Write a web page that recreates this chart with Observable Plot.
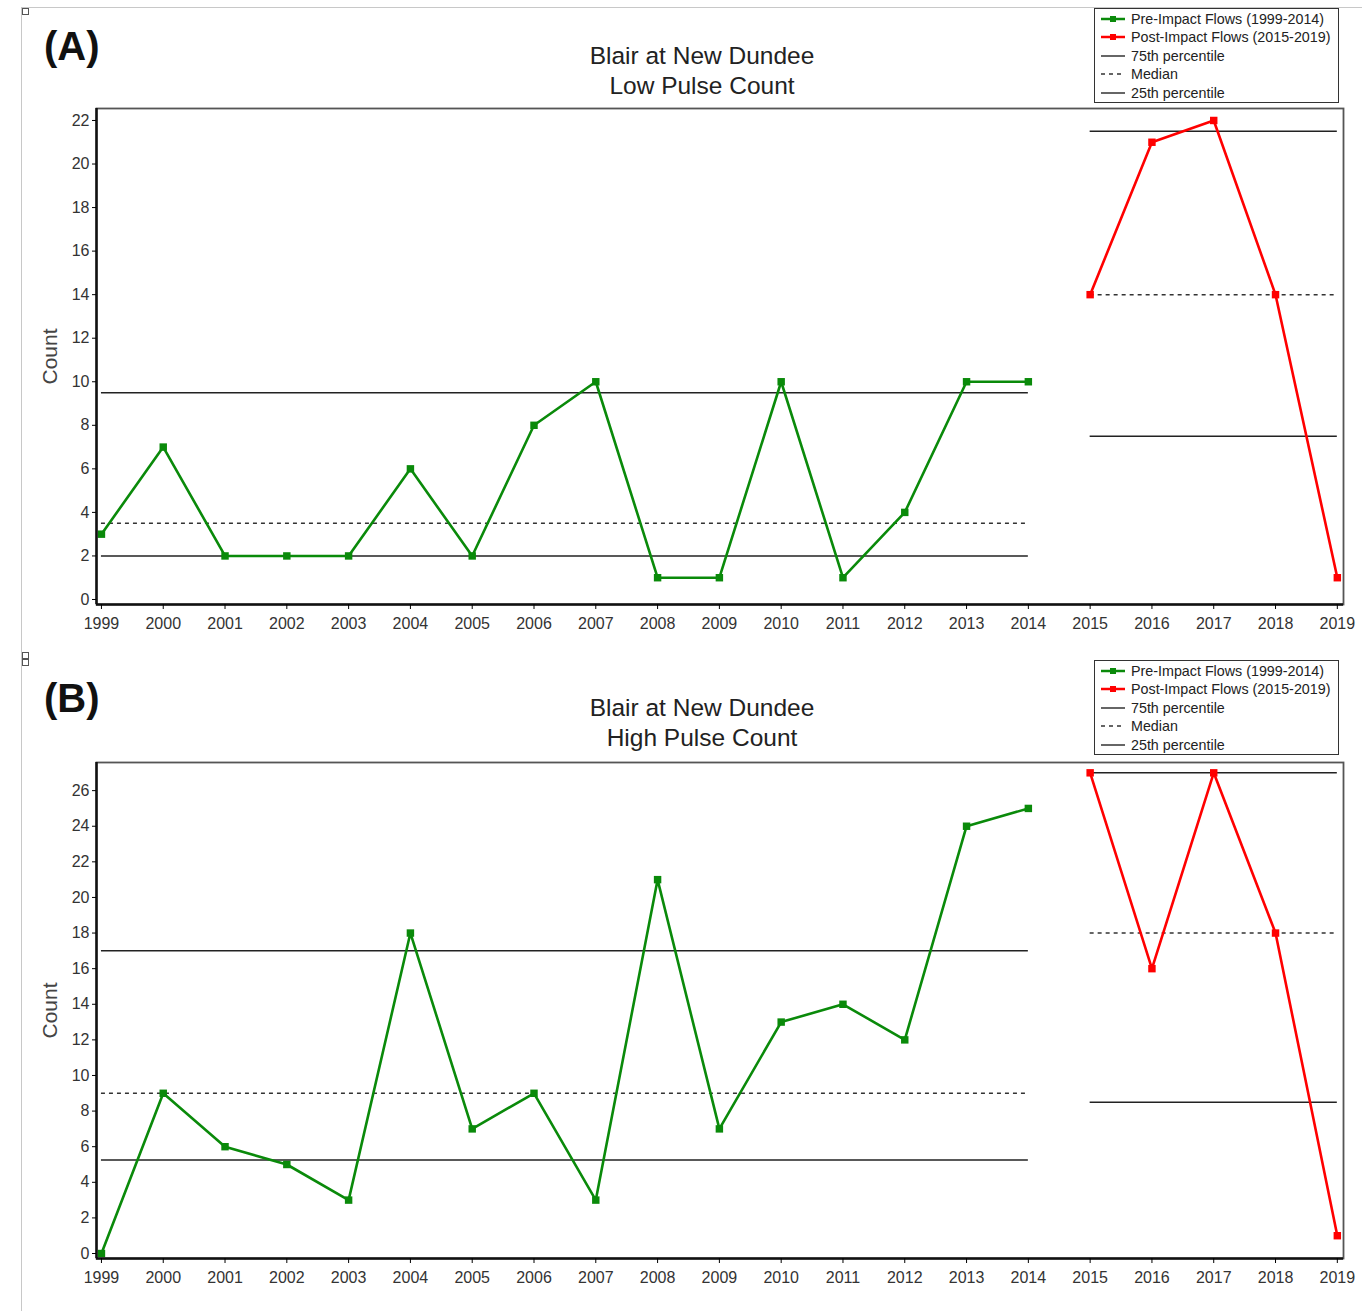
<!DOCTYPE html>
<html>
<head>
<meta charset="utf-8">
<script src="https://cdn.jsdelivr.net/npm/d3@7"></script>
<script src="https://cdn.jsdelivr.net/npm/@observablehq/plot@0.6"></script>
<style>
  html, body { margin: 0; padding: 0; background: #fff; }
  #page { position: relative; width: 1362px; height: 1311px; overflow: hidden; font-family: "Liberation Sans", Arial, sans-serif; }
  .panel { position: absolute; left: 0; }
  .tag { position: absolute; font-weight: bold; font-size: 40px; color: #111; }
  .title { position: absolute; left: 452px; width: 500px; text-align: center; font-size: 24.5px; line-height: 30px; color: #222; }
  .legend { position: absolute; left: 1094px; width: 245px; height: 95px; border: 1.5px solid #333; box-sizing: border-box; background: #fff; }
  .legend .row { position: absolute; left: 6px; height: 18px; display: flex; align-items: center; font-size: 14.3px; color: #222; white-space: nowrap; }
  .legend svg { margin-right: 6px; }
  .border-v { position: absolute; left: 21px; top: 7px; width: 1px; height: 1304px; background: #c8c8c8; }
  .border-h { position: absolute; left: 21px; top: 7px; width: 1341px; height: 1px; background: #c8c8c8; }
  .sq { position: absolute; width: 5px; height: 5px; border: 1px solid #555; background: #fff; }
</style>
</head>
<body>
<div id="page">
  <div class="border-v"></div>
  <div class="border-h"></div>
  <div class="sq" style="left:22px;top:8px"></div>
  <div class="sq" style="left:22px;top:652px"></div>
  <div class="sq" style="left:22px;top:659px"></div>
</div>
<script>
// ---------- data ----------
const yearTicks = [1999,2000,2001,2002,2003,2004,2005,2006,2007,2008,2009,2010,2011,2012,2013,2014,2015,2016,2017,2018,2019];
const preYears  = [1999,2000,2001,2002,2003,2004,2005,2006,2007,2008,2009,2010,2011,2012,2013,2014];
const postYears = [2015,2016,2017,2018,2019];

// Panel A: Low Pulse Count
const lowPre  = [3,7,2,2,2,6,2,8,10,1,1,10,1,4,10,10];
const lowPost = [14,21,22,14,1];
const lowPrePct  = [2, 3.5, 9.5];    // 25th, median, 75th
const lowPostPct = [7.5, 14, 21.5];
const lowYTicks = [0,2,4,6,8,10,12,14,16,18,20,22];

// Panel B: High Pulse Count
const highPre  = [0,9,6,5,3,18,7,9,3,21,7,13,14,12,24,25];
const highPost = [27,16,27,18,1];
const highPrePct  = [5.25, 9, 17];
const highPostPct = [8.5, 18, 27];
const highYTicks = [0,2,4,6,8,10,12,14,16,18,20,22,24,26];

const legendLabels = ["Pre-Impact Flows (1999-2014)", "Post-Impact Flows (2015-2019)", "75th percentile", "Median", "25th percentile"];

const GREEN = "#0a8a0a";
const RED = "#ff0000";

function makePanel({top, overlayTop, height, marginTop, marginBottom, yDomain, yTicks, pre, post, prePct, postPct, tag, sub}) {
  const page = document.getElementById("page");
  const preData = preYears.map((y, i) => ({year: y, v: pre[i]}));
  const postData = postYears.map((y, i) => ({year: y, v: post[i]}));
  const pctRows = (pct, x1, x2) => [
    {y: pct[0], x1, x2, kind: "solid"},
    {y: pct[1], x1, x2, kind: "dash"},
    {y: pct[2], x1, x2, kind: "solid"}
  ];
  const pctAll = [...pctRows(prePct, preYears[0], preYears[preYears.length-1]),
                  ...pctRows(postPct, postYears[0], postYears[postYears.length-1])];
  const xDomain = [1998.92, 2019.1];

  const chart = Plot.plot({
    width: 1362,
    height,
    marginLeft: 96,
    marginRight: 19,
    marginTop,
    marginBottom,
    style: {fontFamily: "'Liberation Sans', Arial, sans-serif", background: "transparent"},
    x: {domain: xDomain},
    y: {domain: yDomain},
    marks: [
      Plot.ruleY(pctAll.filter(d => d.kind === "solid"), {y: "y", x1: "x1", x2: "x2", stroke: "#222", strokeWidth: 1.5}),
      Plot.ruleY(pctAll.filter(d => d.kind === "dash"), {y: "y", x1: "x1", x2: "x2", stroke: "#333", strokeWidth: 1.5, strokeDasharray: "4,4"}),
      Plot.line(preData, {x: "year", y: "v", stroke: GREEN, strokeWidth: 2.6}),
      Plot.line(postData, {x: "year", y: "v", stroke: RED, strokeWidth: 2.6}),
      Plot.dot(preData, {x: "year", y: "v", symbol: "square", fill: GREEN, r: 4.2}),
      Plot.dot(postData, {x: "year", y: "v", symbol: "square", fill: RED, r: 4.2}),
      Plot.frame({stroke: "#555", strokeWidth: 1.8}),
      Plot.ruleX([xDomain[0]], {stroke: "#111", strokeWidth: 2.5}),
      Plot.ruleY([yDomain[0]], {stroke: "#111", strokeWidth: 2.5}),
      Plot.axisX({ticks: yearTicks, tickFormat: d => String(d), tickSize: 5, tickPadding: 8, fontSize: 16, fill: "#333", label: null}),
      Plot.axisY({ticks: yTicks, tickSize: 4, tickPadding: 3, fontSize: 16, fill: "#333", label: null}),
      Plot.text(["Count"], {frameAnchor: "left", textAnchor: "middle", dx: -46, rotate: -90, fontSize: 21, fill: "#444"})
    ]
  });
  const wrap = document.createElement("div");
  wrap.className = "panel";
  wrap.style.top = top + "px";
  wrap.appendChild(chart);
  page.appendChild(wrap);

  const t = document.createElement("div");
  t.className = "tag";
  t.style.left = "44px";
  t.style.top = (overlayTop + 24) + "px";
  t.textContent = tag;
  page.appendChild(t);

  const ti = document.createElement("div");
  ti.className = "title";
  ti.style.top = (overlayTop + 41) + "px";
  ti.innerHTML = "Blair at New Dundee<br>" + sub;
  page.appendChild(ti);

  const lg = document.createElement("div");
  lg.className = "legend";
  lg.style.top = (overlayTop + 8) + "px";
  const samples = [
    `<svg width="24" height="10"><line x1="0" y1="5" x2="24" y2="5" stroke="${GREEN}" stroke-width="2.5"/><rect x="9" y="2" width="6" height="6" fill="${GREEN}"/></svg>`,
    `<svg width="24" height="10"><line x1="0" y1="5" x2="24" y2="5" stroke="${RED}" stroke-width="2.5"/><rect x="9" y="2" width="6" height="6" fill="${RED}"/></svg>`,
    `<svg width="24" height="10"><line x1="0" y1="5" x2="24" y2="5" stroke="#333" stroke-width="1.5"/></svg>`,
    `<svg width="24" height="10"><line x1="0" y1="5" x2="24" y2="5" stroke="#333" stroke-width="1.5" stroke-dasharray="4,4"/></svg>`,
    `<svg width="24" height="10"><line x1="0" y1="5" x2="24" y2="5" stroke="#333" stroke-width="1.5"/></svg>`
  ];
  legendLabels.forEach((lab, i) => {
    const r = document.createElement("div");
    r.className = "row";
    r.style.top = (0.5 + i * 18.6) + "px";
    r.innerHTML = samples[i] + "<span></span>";
    r.querySelector("span").textContent = lab;
    lg.appendChild(r);
  });
  page.appendChild(lg);
}

makePanel({top: 0, overlayTop: 0, height: 645, marginTop: 108, marginBottom: 41, yDomain: [-0.23, 22.55], yTicks: lowYTicks,
  pre: lowPre, post: lowPost, prePct: lowPrePct, postPct: lowPostPct, tag: "(A)", sub: "Low Pulse Count"});
makePanel({top: 645, overlayTop: 652, height: 666, marginTop: 117, marginBottom: 53, yDomain: [-0.28, 27.58], yTicks: highYTicks,
  pre: highPre, post: highPost, prePct: highPrePct, postPct: highPostPct, tag: "(B)", sub: "High Pulse Count"});
</script>
</body>
</html>
